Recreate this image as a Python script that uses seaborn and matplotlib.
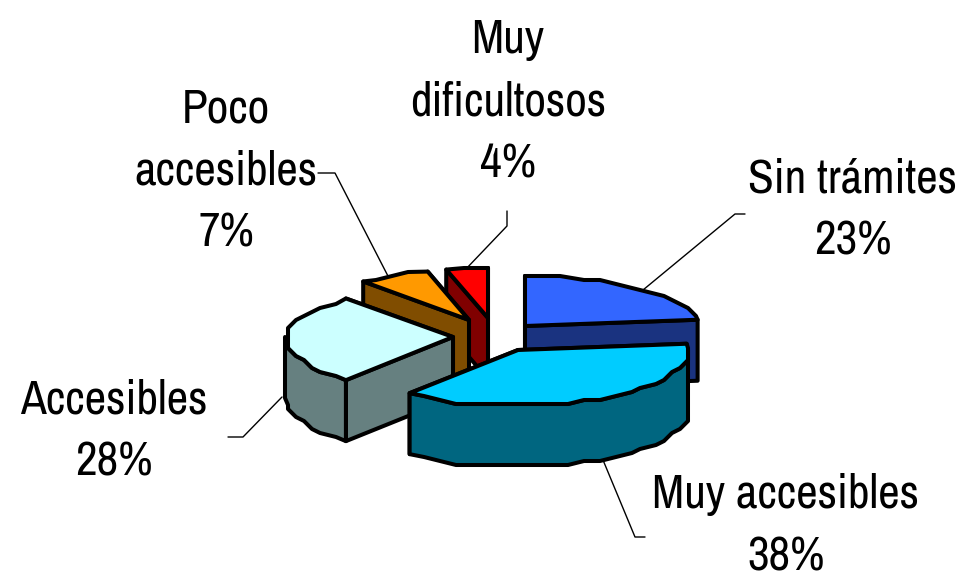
import numpy as np
import matplotlib
matplotlib.use("Agg")
import matplotlib.pyplot as plt
import seaborn as sns

categorias = ["Sin trámites", "Muy accesibles", "Accesibles", "Poco accesibles", "Muy dificultosos"]
porcentajes = [23, 38, 28, 7, 4]
etiquetas = ["Sin trámites\n23%", "Muy accesibles\n38%", "Accesibles\n28%", "Poco\naccesibles\n7%", "Muy\ndificultosos\n4%"]

# layout of the exploded pie, in pixels
centros = [(525, 326), (518, 350), (453, 337), (469, 320), (488, 318)]
radios = [174, 170, 168, 166, 168]
pos_texto = [(853, 210), (786, 526), (114, 431), (226, 171), (508, 102)]
guias = [
    [(745, 214), (735, 214), (643, 290)],
    [(645, 537), (635, 537), (603, 460)],
    [(228, 437), (243, 437), (282, 397)],
    [(318, 173), (335, 173), (390, 280)],
    [(507, 211), (507, 226), (465, 270)],
]
alto = 61
ry_atras, ry_frente = 50, 56

sns.set_theme(style="white")
plt.rcParams["font.family"] = ["Archivo Narrow", "Liberation Sans", "DejaVu Sans"]
colores = sns.color_palette(["#3366FF", "#00CCFF", "#CCFFFF", "#FF9900", "#FF0000"])
oscuros = [tuple(v * 0.5 for v in c) for c in colores]


def punto(c, r, t):
    ry = ry_atras if np.cos(t) > 0 else ry_frente
    return c[0] + r * np.sin(t), c[1] - ry * np.cos(t)


def borde(c, r, t0, t1):
    # the rim is coarse and stepped, like an old office chart export
    n = max(int(np.degrees(t1 - t0) / 6), 1)
    pts = [punto(c, r, t) for t in np.linspace(t0, t1, n + 1)]
    out = [pts[0]]
    for x, y in pts[1:-1]:
        out.append((round(x / 8) * 8, round(y / 4) * 4))
    out.append(pts[-1])
    return out


fig, ax = plt.subplots(figsize=(9.58, 5.8), dpi=100)
fig.subplots_adjust(0, 0, 1, 1)
ax.set_xlim(0, 958)
ax.set_ylim(580, 0)
ax.axis("off")

for xy in guias:
    ax.plot(*zip(*xy), color="black", lw=1.0, zorder=1)

angulos = np.radians(np.cumsum([0] + porcentajes) * 3.6)
kw = dict(edgecolor="black", lw=2.9, joinstyle="round")
orden = [4, 3, 0, 2, 1]
for z, i in enumerate(orden):
    c, r = centros[i], radios[i]
    t0, t1 = angulos[i], angulos[i + 1]
    zo = 2 + z
    # radial faces, the one further back goes first
    for t in sorted([t0, t1], key=lambda a: punto(c, r, a)[1]):
        p = punto(c, r, t)
        ax.fill([c[0], p[0], p[0], c[0]], [c[1], p[1], p[1] + alto, c[1] + alto],
                facecolor=oscuros[i], zorder=zo, **kw)
    # outer wall, only the part that faces the front
    a0, a1 = max(t0, np.pi / 2), min(t1, 3 * np.pi / 2)
    if a1 > a0:
        xs, ys = zip(*borde(c, r, a0, a1))
        ax.fill(list(xs) + list(xs[::-1]), list(ys) + [y + alto for y in ys[::-1]],
                facecolor=oscuros[i], zorder=zo, **kw)
    # top
    xs, ys = zip(*borde(c, r, t0, t1))
    ax.fill([c[0]] + list(xs), [c[1]] + list(ys), facecolor=colores[i], zorder=zo, **kw)

for txt, (x, y) in zip(etiquetas, pos_texto):
    ax.text(x, y, txt, ha="center", va="center", fontsize=34, color="black",
            linespacing=1.55, zorder=20)

fig.savefig("out.png", dpi=100, facecolor="white")
